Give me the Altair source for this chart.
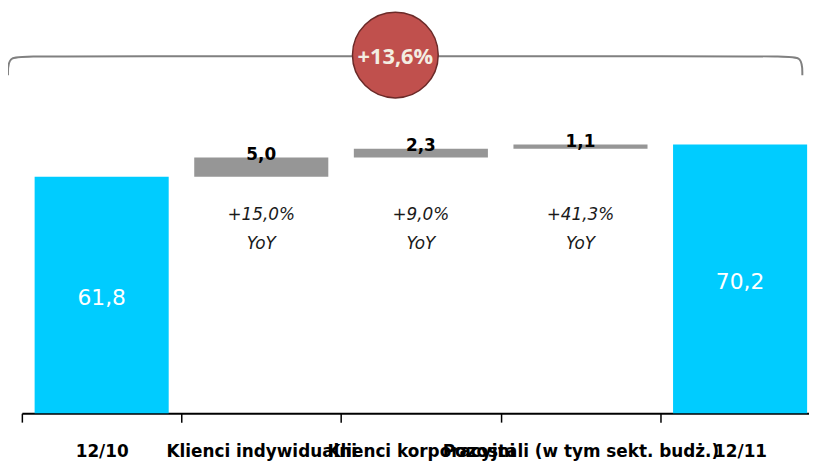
import altair as alt
import pandas as pd

# ---- data ----
categories = ["12/10", "Klienci indywidualni", "Klienci korporacyjni",
              "Pozostali (w tym sekt. budż.)", "12/11"]
values = [61.8, 5.0, 2.3, 1.1, 70.2]
kinds = ["total", "delta", "delta", "delta", "total"]
value_labels = ["61,8", "5,0", "2,3", "1,1", "70,2"]
yoy_labels = ["", "+15,0%", "+9,0%", "+41,3%", ""]
yoy_word = "YoY"
total_change_label = "+13,6%"

# annotation anchors (x in category units, y in value units)
yoy_pct_level = 51.9
yoy_word_level = 44.1
bracket_u = [-0.087, -0.087, 0.031, 4.78, 4.89, 4.89]
bracket_v = [88.3, 93.3, 93.3, 93.3, 93.3, 88.3]
badge_u = [2.34]
badge_v = [93.6]

# ---- waterfall table ----
starts, ends = [], []
running = 0.0
for v, k in zip(values, kinds):
    if k == "total":
        s, e = 0.0, v
    else:
        s, e = running, running + v
    running = e
    starts.append(s)
    ends.append(e)

df = pd.DataFrame({
    "cat": categories,
    "kind": kinds,
    "start": starts,
    "end": ends,
    "mid": [(s + e) / 2 for s, e in zip(starts, ends)],
    "label": value_labels,
    "yoy": yoy_labels,
    "yoy_word": [yoy_word if k == "delta" else "" for k in kinds],
    "yoy_y": [yoy_pct_level] * len(categories),
    "yoy_y2": [yoy_word_level] * len(categories),
})

bracket_df = pd.DataFrame({"u": bracket_u, "v": bracket_v, "i": list(range(len(bracket_u)))})
badge_df = pd.DataFrame({"u": badge_u, "v": badge_v, "t": [total_change_label]})

ydom = alt.Scale(domain=[0, 105.3], nice=False, zero=True)
XRANGE = [0, 806]

x_band = alt.X(
    "cat:N", sort=categories,
    scale=alt.Scale(paddingInner=0, paddingOuter=0, range=XRANGE),
    axis=alt.Axis(
        title=None, labelAngle=0, tickBand="extent",
        labelFont="DejaVu Sans", labelFontWeight="bold", labelFontSize=17,
        labelColor="black", labelPadding=22, labelLimit=0, labelOverlap=False,
        domainColor="black", domainWidth=2,
        tickColor="black", tickWidth=1.5, tickSize=9,
    ),
)
x_cat = alt.X("cat:N", sort=categories, scale=alt.Scale(paddingInner=0, paddingOuter=0, range=XRANGE))

base = alt.Chart(df)

bars = base.mark_bar(width=alt.RelativeBandSize(0.84)).encode(
    x=x_band,
    y=alt.Y("start:Q", scale=ydom, axis=None),
    y2="end:Q",
    color=alt.Color("kind:N", scale=alt.Scale(domain=["total", "delta"],
                                              range=["#00CCFF", "#969696"]), legend=None),
)

total_labels = base.transform_filter(alt.datum.kind == "total").mark_text(
    font="DejaVu Sans", fontSize=22, color="white", baseline="middle", dy=3
).encode(x=x_cat, y=alt.Y("mid:Q", scale=ydom), text="label:N")

delta_labels = base.transform_filter(alt.datum.kind == "delta").mark_text(
    font="DejaVu Sans", fontWeight="bold", fontSize=17, color="black",
    baseline="alphabetic", dy=2
).encode(x=x_cat, y=alt.Y("end:Q", scale=ydom), text="label:N")

yoy1 = base.transform_filter(alt.datum.kind == "delta").mark_text(
    font="DejaVu Sans", fontStyle="italic", fontSize=17, color="#1a1a1a", baseline="middle"
).encode(x=x_cat, y=alt.Y("yoy_y:Q", scale=ydom), text="yoy:N")

yoy2 = base.transform_filter(alt.datum.kind == "delta").mark_text(
    font="DejaVu Sans", fontStyle="italic", fontSize=17, color="#1a1a1a", baseline="middle"
).encode(x=x_cat, y=alt.Y("yoy_y2:Q", scale=ydom), text="yoy_word:N")

band_layer = alt.layer(bars, total_labels, delta_labels, yoy1, yoy2)

x_q = alt.X("u:Q", scale=alt.Scale(domain=[0, 5], nice=False, zero=False, range=XRANGE),
            axis=None)

bracket = alt.Chart(bracket_df).mark_line(
    interpolate="basis", color="#808080", strokeWidth=2
).encode(x=x_q, y=alt.Y("v:Q", scale=ydom), order="i:Q")

badge = alt.Chart(badge_df).mark_circle(
    size=7500, color="#C0504D", opacity=1, stroke="#6B2A28", strokeWidth=1.5
).encode(x=x_q, y=alt.Y("v:Q", scale=ydom))

badge_text = alt.Chart(badge_df).mark_text(
    font="Open Sans", fontWeight="bold", fontSize=22, color="#F3EEE2", baseline="middle", dy=2
).encode(x=x_q, y=alt.Y("v:Q", scale=ydom), text="t:N")

anno_layer = alt.layer(bracket, badge, badge_text)

chart = alt.layer(band_layer, anno_layer).resolve_scale(x="independent").properties(
    width=795, height=407,
    autosize=alt.AutoSizeParams(type="none"),
    padding={"left": 14, "top": 0, "right": 0, "bottom": 48},
).configure_view(stroke=None)

chart.save("out.html", embed_options={"renderer": "svg", "actions": False})
